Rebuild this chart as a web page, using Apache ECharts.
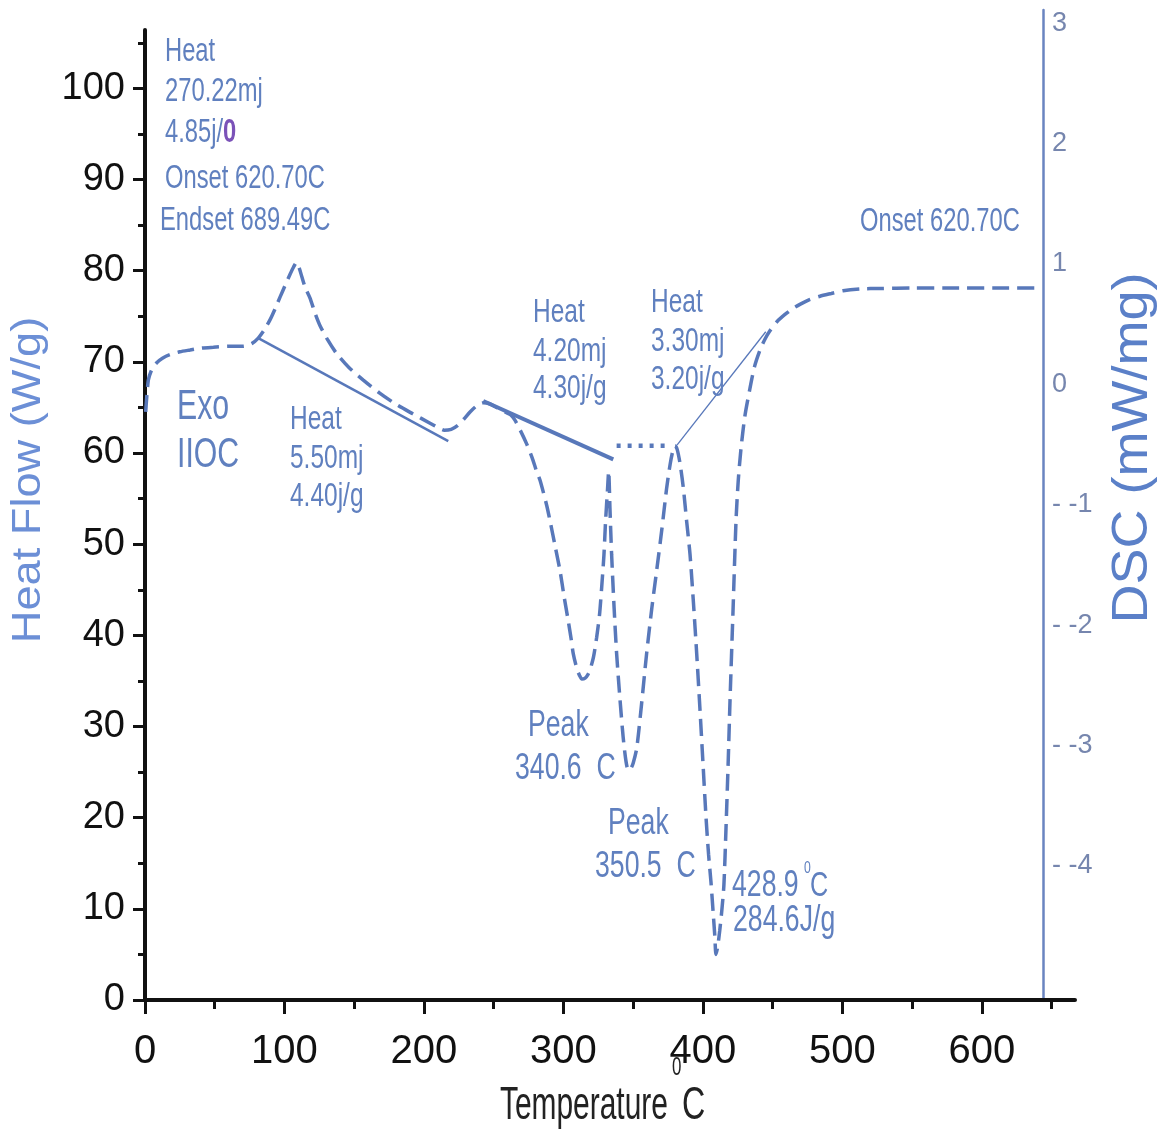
<!DOCTYPE html>
<html>
<head>
<meta charset="utf-8">
<title>DSC</title>
<script src="https://cdn.jsdelivr.net/npm/echarts@6/dist/echarts.min.js"></script>
<style>
  html, body { margin: 0; padding: 0; background: #fff; }
  #chart { width: 1171px; height: 1131px; }
</style>
</head>
<body>
<div id="chart"></div>
<script>
'use strict';

// DSC trace: temperature (C) and heat flow (W/g)
var curveTemp = [0.5, 2.4, 5, 8.4, 12.5, 17.9, 25, 32.3, 40, 49, 60, 70.5, 76.5, 81.2, 85.5, 89.6, 93.5, 96.8,
    100.5, 104, 106.5, 108.5, 110.5, 112.5, 115, 118.3, 122, 125.4, 131, 137.4, 146, 156.5, 168, 180.4, 192,
    204, 210, 214.5, 219.5, 224, 228.5, 233, 238, 242.5, 247, 252, 258, 262, 265.2, 269, 273.6, 277.5, 280.7,
    283.2, 287.9, 290.3, 294, 297.5, 300.5, 303.4, 305.5, 307, 309.5, 311.5, 313.2, 315.5, 317.5, 319, 321.5,
    323.8, 325.8, 327.4, 329, 330.2, 331.5, 332.4, 333.3, 334.5, 336.3, 338.1, 340.5, 342.8, 344.8, 346.5,
    348.3, 350, 352.5, 356, 359.6, 363.5, 366.8, 370.5, 374, 376.5, 378.5, 380, 381.5, 383.5, 385.9, 388.3,
    390.7, 393.2, 395.5, 397.8, 400, 402.2, 404, 405.7, 407.3, 408.5, 409.3, 410.5, 412, 413.5, 415, 416.5,
    418, 419.4, 421.5, 423.7, 425.3, 427.2, 430, 433.7, 437, 440.9, 444.5, 448, 453, 458.8, 464, 469.5, 476,
    483.9, 492, 500.4, 513, 527, 550, 577, 610, 642];
var curveFlow = [64.5, 68.0, 69.2, 69.9, 70.4, 70.8, 71.1, 71.3, 71.5, 71.6, 71.7, 71.7, 72.0, 72.6, 73.5, 74.6,
    75.9, 77.1, 78.4, 79.6, 80.4, 80.9, 80.3, 79.3, 78.1, 77.0, 75.3, 74.0, 72.4, 70.9, 69.4, 68.0, 66.6, 65.3,
    64.3, 63.3, 62.8, 62.5, 62.6, 63.0, 63.7, 64.5, 65.2, 65.5, 65.4, 65.0, 64.5, 64.2, 63.6, 62.5, 61.0, 59.5,
    58.0, 57.0, 54.3, 52.6, 49.8, 47.1, 44.2, 41.6, 39.6, 38.0, 36.4, 35.6, 35.2, 35.3, 35.7, 36.2, 37.6, 39.8,
    42.2, 45.3, 48.8, 52.6, 55.8, 58.0, 54.0, 48.9, 43.0, 38.0, 33.0, 28.8, 26.2, 25.2, 25.4, 26.0, 27.6, 32.5,
    38.0, 43.2, 47.1, 51.6, 56.2, 58.8, 60.3, 60.8, 60.4, 58.9, 56.2, 52.5, 48.9, 43.5, 38.0, 32.0, 26.0, 20.0,
    16.0, 13.0, 9.6, 7.0, 5.0, 5.8, 7.6, 9.8, 12.6, 18.8, 25.7, 32.9, 42.5, 52.6, 57.0, 60.4, 64.0, 67.1, 69.5,
    71.3, 72.5, 73.4, 74.4, 75.2, 75.8, 76.3, 76.8, 77.2, 77.5, 77.8, 78.0, 78.05, 78.1, 78.1, 78.1, 78.1];

// construction lines drawn under the peaks
var base1Temp = [81.2, 217.4];
var base1Flow = [72.6, 61.3];
var base2Temp = [242.5, 335.7];
var base2Flow = [65.7, 59.3];
var dotTemp = [338.1, 376.3];
var dotFlow = [60.8, 60.8];
var tangentTemp = [381.5, 445];
var tangentFlow = [60.9, 73.3];

// axis ticks
var tempLabels = [0, 100, 200, 300, 400, 500, 600];
var tempMinor = [50, 150, 250, 350, 450, 550, 650];
var flowLabels = [0, 10, 20, 30, 40, 50, 60, 70, 80, 90, 100];
var flowMinor = [5, 15, 25, 35, 45, 55, 65, 75, 85, 95, 105];
var dscLabels = [-4, -3, -2, -1, 0, 1, 2, 3];

function pairs(xs, ys) {
    var out = [];
    for (var i = 0; i < xs.length; i++) {
        out.push([xs[i], ys[i]]);
    }
    return out;
}

var blue = '#5878ba';
var noteColor = '#6080bf';

function note(text, x, y, size, extra) {
    var el = {
        type: 'text',
        x: x,
        y: y,
        scaleX: 0.72,
        z: 10,
        style: {
            text: text,
            fontSize: size || 33,
            fontFamily: 'Liberation Sans',
            fill: noteColor,
            verticalAlign: 'middle'
        }
    };
    if (extra) {
        for (var k in extra) {
            el[k] = extra[k];
        }
    }
    return el;
}

var chart = echarts.init(document.getElementById('chart'), null, {renderer: 'canvas'});

var tickStyle = {color: '#111', width: 3};

var option = {
    animation: false,
    backgroundColor: '#fff',
    textStyle: {fontFamily: 'Liberation Sans'},
    grid: [
        {left: 145, top: 30, width: 930, height: 970, outerBoundsMode: 'none'},
        {left: 1000, top: 10, width: 43, height: 990, outerBoundsMode: 'none'}
    ],
    xAxis: [
        {
            type: 'value', gridIndex: 0, min: 0, max: 666.7, position: 'bottom',
            axisLine: {show: true, onZero: false, lineStyle: {color: '#111', width: 4}},
            axisTick: {show: true, customValues: tempLabels, length: 14, lineStyle: tickStyle},
            axisLabel: {customValues: tempLabels, margin: 32, fontSize: 40, color: '#111'},
            splitLine: {show: false}
        },
        {
            type: 'value', gridIndex: 0, min: 0, max: 666.7, position: 'bottom',
            axisLine: {show: false},
            axisTick: {show: true, customValues: tempMinor, length: 9, lineStyle: tickStyle},
            axisLabel: {show: false},
            splitLine: {show: false}
        },
        {type: 'value', gridIndex: 1, show: false, min: 0, max: 1}
    ],
    yAxis: [
        {
            type: 'value', gridIndex: 0, min: 0, max: 106.4, position: 'left',
            axisLine: {show: true, onZero: false, lineStyle: {color: '#111', width: 4}},
            axisTick: {show: true, customValues: flowLabels, length: 12, lineStyle: tickStyle},
            axisLabel: {customValues: flowLabels, margin: 20, fontSize: 38, color: '#111'},
            splitLine: {show: false}
        },
        {
            type: 'value', gridIndex: 0, min: 0, max: 106.4, position: 'left',
            axisLine: {show: false},
            axisTick: {show: true, customValues: flowMinor, length: 7, lineStyle: tickStyle},
            axisLabel: {show: false},
            splitLine: {show: false}
        },
        {
            type: 'value', gridIndex: 1, min: -5.114, max: 3.109, position: 'right',
            axisLine: {show: true, onZero: false, lineStyle: {color: '#6a84c0', width: 2.5}},
            axisTick: {show: false},
            axisLabel: {
                customValues: dscLabels, margin: 9, fontSize: 27, color: '#7686ae',
                formatter: function (v) {
                    return v < 0 ? '- ' + v : String(v);
                }
            },
            splitLine: {show: false}
        }
    ],
    series: [
        {
            name: 'DSC', type: 'line', xAxisIndex: 0, yAxisIndex: 0,
            data: pairs(curveTemp, curveFlow), showSymbol: false, smooth: 0.25,
            lineStyle: {color: blue, width: 3.5, type: [17, 8]}
        },
        {
            name: 'base1', type: 'line', xAxisIndex: 0, yAxisIndex: 0,
            data: pairs(base1Temp, base1Flow), showSymbol: false,
            lineStyle: {color: blue, width: 2.5}
        },
        {
            name: 'base2', type: 'line', xAxisIndex: 0, yAxisIndex: 0,
            data: pairs(base2Temp, base2Flow), showSymbol: false,
            lineStyle: {color: blue, width: 4}
        },
        {
            name: 'dots', type: 'line', xAxisIndex: 0, yAxisIndex: 0,
            data: pairs(dotTemp, dotFlow), showSymbol: false,
            lineStyle: {color: blue, width: 4.5, type: [4, 7]}
        },
        {
            name: 'tangent', type: 'line', xAxisIndex: 0, yAxisIndex: 0,
            data: pairs(tangentTemp, tangentFlow), showSymbol: false,
            lineStyle: {color: blue, width: 1.3}
        }
    ],
    graphic: [
        // axis titles
        {
            type: 'text', x: 29, y: 480, rotation: Math.PI / 2, scaleX: 1.13,
            style: {text: 'Heat Flow (W/g)', fontSize: 40, fontFamily: 'Liberation Sans', fill: '#6c8fd6',
                align: 'center', verticalAlign: 'middle'}
        },
        {
            type: 'text', x: 1133, y: 448, rotation: Math.PI / 2, scaleX: 1.08,
            style: {text: 'DSC (mW/mg)', fontSize: 50, fontFamily: 'Liberation Sans', fill: '#5b80c8',
                align: 'center', verticalAlign: 'middle'}
        },
        {
            type: 'text', x: 500, y: 1106, scaleX: 0.65,
            style: {text: 'Temperature', fontSize: 46, fontFamily: 'Liberation Sans', fill: '#222',
                verticalAlign: 'middle'}
        },
        {
            type: 'text', x: 672, y: 1068, scaleX: 0.65,
            style: {text: '0', fontSize: 26, fontFamily: 'Liberation Sans', fill: '#222', verticalAlign: 'middle'}
        },
        {
            type: 'text', x: 682, y: 1106, scaleX: 0.7,
            style: {text: 'C', fontSize: 46, fontFamily: 'Liberation Sans', fill: '#222', verticalAlign: 'middle'}
        },

        // annotations
        note('Heat', 165, 52),
        note('270.22mj', 165, 92),
        {
            type: 'text', x: 165, y: 133, scaleX: 0.72, z: 10,
            style: {
                text: '4.85j/{p|0}', fontSize: 33, fontFamily: 'Liberation Sans', fill: noteColor,
                verticalAlign: 'middle',
                rich: {p: {fill: '#7b52b8', fontSize: 33, fontFamily: 'Liberation Sans', fontWeight: 'bold'}}
            }
        },
        note('Onset 620.70C', 165, 179),
        note('Endset 689.49C', 160, 221),
        note('Exo', 177, 407, 42),
        note('IIOC', 177, 455, 42),
        note('Heat', 290, 420, 34),
        note('5.50mj', 290, 459, 34),
        note('4.40j/g', 290, 497, 34),
        note('Heat', 533, 313, 34),
        note('4.20mj', 533, 352, 34),
        note('4.30j/g', 533, 389, 34),
        note('Heat', 651, 303, 34),
        note('3.30mj', 651, 342, 34),
        note('3.20j/g', 651, 380, 34),
        note('Onset 620.70C', 860, 222),
        note('Peak', 528, 726, 37),
        note('340.6  C', 515, 769, 37),
        note('Peak', 608, 824, 37),
        note('350.5  C', 595, 867, 37),
        note('428.9', 732, 886, 37),
        note('0', 804, 868, 17),
        note('C', 810, 886, 35),
        note('284.6J/g', 733, 921, 37)
    ]
};

chart.setOption(option);
</script>
</body>
</html>
